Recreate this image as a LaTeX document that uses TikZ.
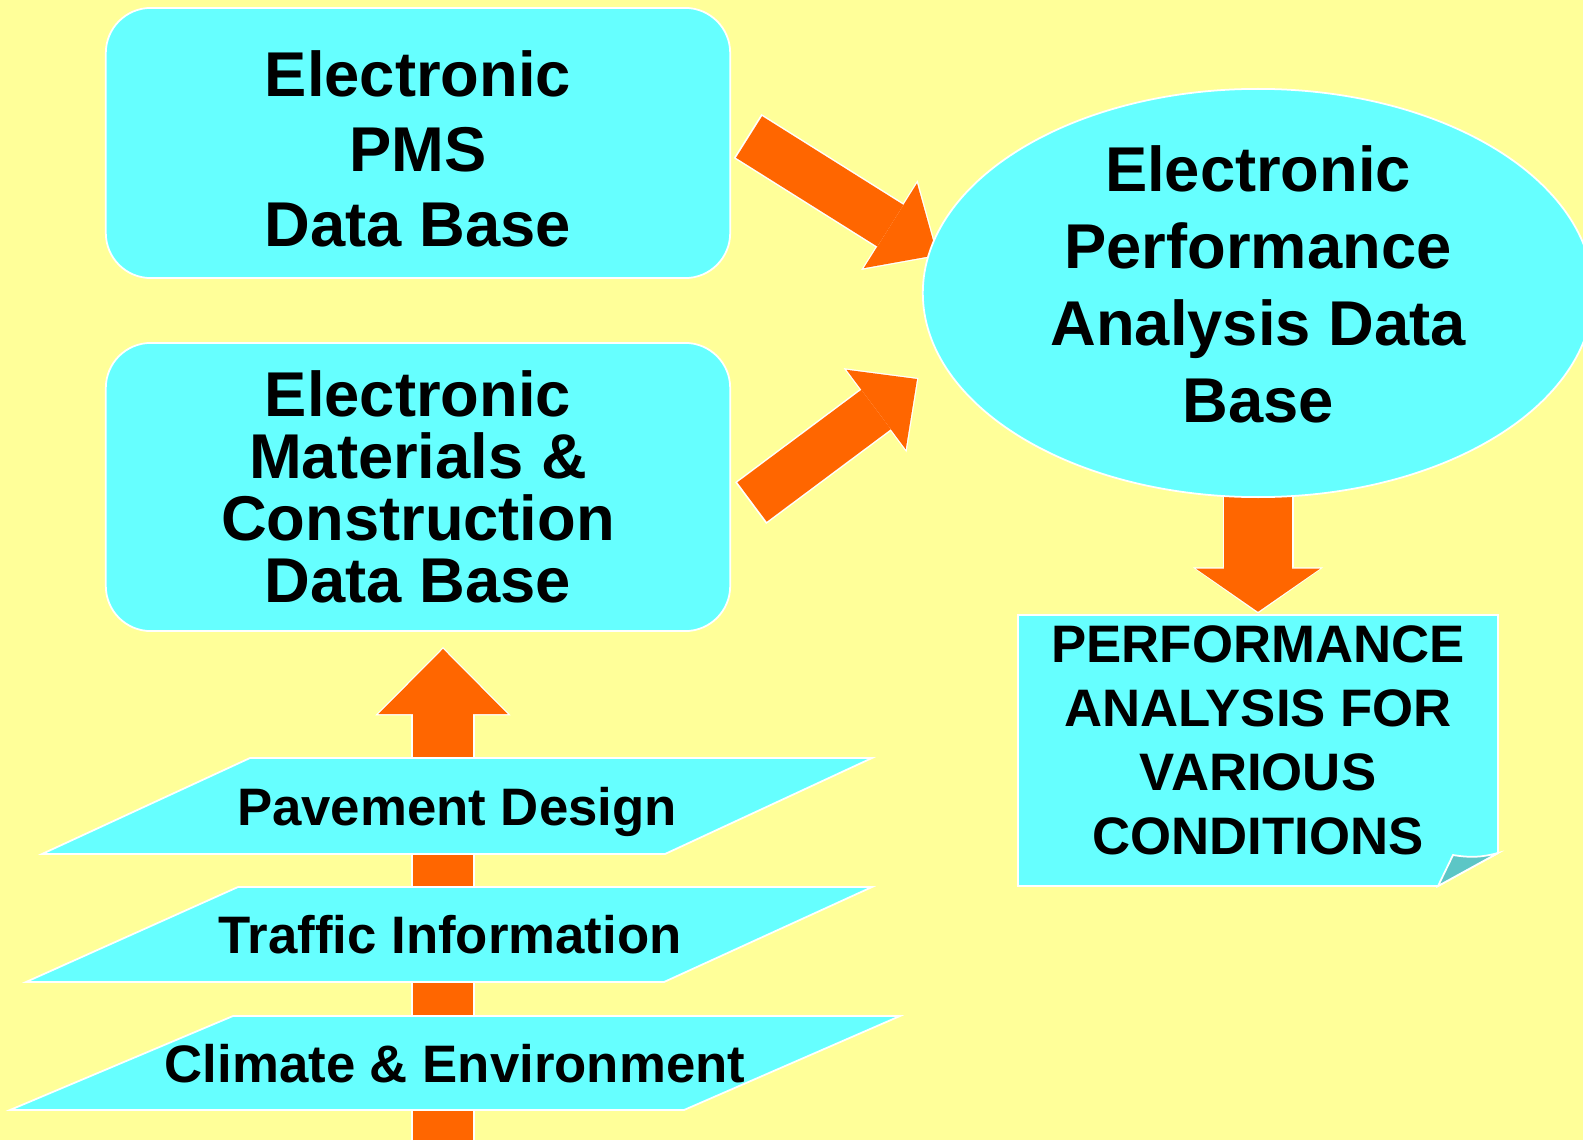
\documentclass[tikz,border=0pt]{standalone}
\usepackage{fontspec}
\setmainfont{Liberation Sans}
\usetikzlibrary{arrows.meta, positioning, shapes.geometric}
\definecolor{bgc}{HTML}{FFFF99}
\definecolor{dbc}{HTML}{66FFFF}
\definecolor{arrowc}{HTML}{FF6600}
\definecolor{foldc}{HTML}{5CC6C6}
\tikzset{x=0.01cm, y=-0.01cm, % one unit is one pixel of the slide, y runs downwards
  database/.style={ % rounded boxes of the data bases
    draw=white, line width=0.5pt, fill=dbc,
    rounded corners=0.45cm,
    minimum width=6.24cm,
    align=center,
    font=\bfseries\fontsize{18}{21.3}\selectfont},
  bigbase/.style={ % the ellipse in the middle
    ellipse, draw=white, line width=0.5pt, fill=dbc,
    inner sep=0pt,
    minimum width=6.70cm, minimum height=4.08cm,
    align=center,
    text height=73.5pt, text depth=0pt,
    font=\bfseries\fontsize{18}{21.9}\selectfont},
  notetext/.style={ % text on the folded sheet
    minimum width=4.8cm, minimum height=2.71cm,
    align=center,
    text height=59.6pt, text depth=0pt,
    font=\bfseries\fontsize{15}{18.2}\selectfont},
  layer/.style={ % slanted input layers
    draw=white, line width=0.5pt, fill=dbc},
  layertext/.style={
    text height=11pt, text depth=0pt,
    font=\bfseries\fontsize{15}{18}\selectfont},
  flow/.style n args={3}{ % block arrows: shaft, head width, head length (cm)
    /utils/exec={\pgfmathsetmacro\outw{#1+0.03}\pgfmathsetmacro\outh{#2+0.06}\pgfmathsetmacro\outl{#3+0.03}},
    draw=arrowc, line width=#1cm,
    -{Triangle[width=#2cm, length=#3cm, line width=0pt]},
    preaction={draw=white, line width=\outw cm,
      -{Triangle[width=\outh cm, length=\outl cm, line width=0pt]},
      shorten >=-0.5pt, shorten <=-0.5pt}}}

\begin{document}
\begin{tikzpicture}
  \fill[bgc] (0,0) rectangle (1583,1140);
  \useasboundingbox (0,0) rectangle (1583,1140);

  \node[database, minimum height=2.70cm, text height=58.9pt, text depth=0pt] (pms) at (418,143) {Electronic\\PMS\\Data Base};
  \node[database, minimum height=2.88cm, font=\bfseries\fontsize{18}{17.6}\selectfont] (mat) at (418,487)
    {Electronic\\Materials \&\\Construction\\Data Base};

  % folded sheet
  \fill[dbc, draw=white, line width=0.5pt] (1018,615) -- (1498,615) -- (1498,853) -- (1438,886) -- (1018,886) -- cycle;
  \fill[foldc, draw=white, line width=0.5pt] (1438,886) -- (1453,855) to[bend right=12] (1498,853) -- cycle;
  \node[notetext] (pac) at (1258,750) {PERFORMANCE\\ANALYSIS FOR\\VARIOUS\\CONDITIONS};

  \coordinate (perfc) at (1258,293);
  \draw[flow={0.49}{1.00}{0.55}] ([shift={(18,-6)}]pms.east) -- ([shift={(-321,-38)}]perfc);
  \draw[flow={0.49}{0.99}{0.51}] ([shift={(21,15)}]mat.east) -- ([shift={(-341,86)}]perfc);
  \draw[flow={0.68}{1.24}{0.43}] ([shift={(0,190)}]perfc) -- ([shift={(0,-2)}]pac.north);
  \node[bigbase] (perf) at (perfc) {Electronic\\Performance\\Analysis Data\\Base};

  % inputs feeding the materials data base
  \coordinate (feed) at (443,1140);
  \draw[flow={0.60}{1.29}{0.65}] (feed) -- ([shift={(25,17)}]mat.south);
  \draw[layer] (250,758) -- (872,758) -- (665,854) -- (42,854) -- cycle;
  \node[layertext] (design) at (457,806) {Pavement Design};
  \draw[layer] (238,887) -- (872,887) -- (664,982) -- (26,982) -- cycle;
  \node[layertext] (traffic) at (450,934) {Traffic Information};
  \draw[layer] (233,1016) -- (900,1016) -- (684,1110) -- (10,1110) -- cycle;
  \node[layertext] (climate) at (455,1063) {Climate \& Environment};
\end{tikzpicture}
\end{document}
